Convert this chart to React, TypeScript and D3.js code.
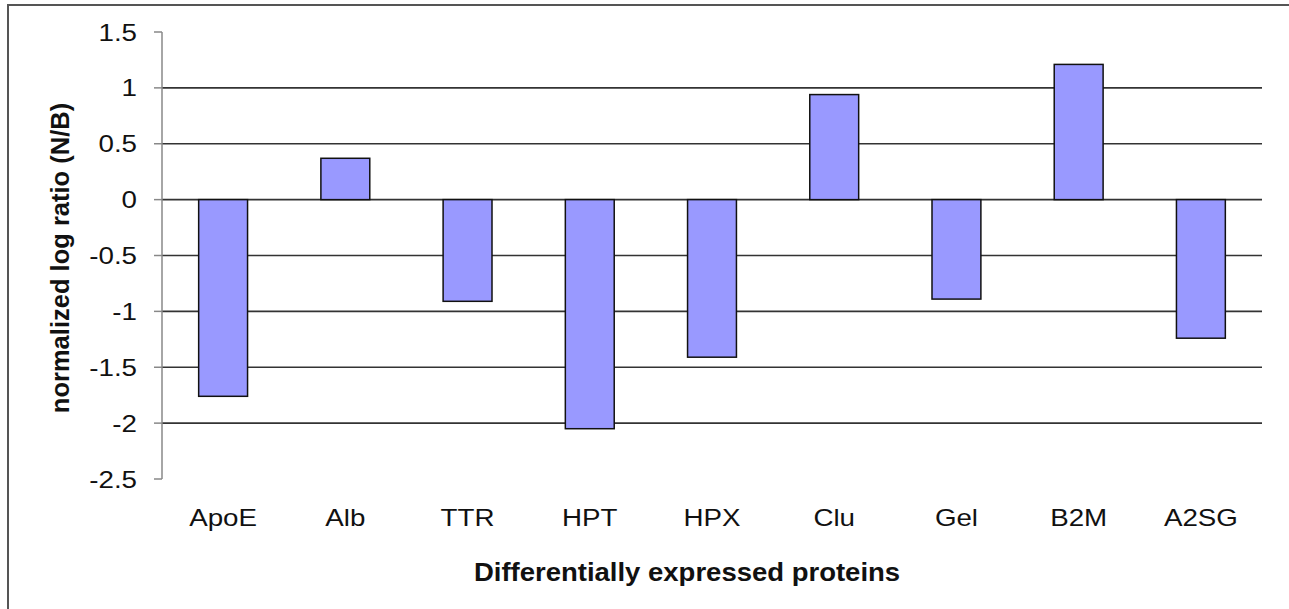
import React from "react";
import * as d3 from "d3";

const categories = ["ApoE", "Alb", "TTR", "HPT", "HPX", "Clu", "Gel", "B2M", "A2SG"];
const values = [-1.76, 0.37, -0.91, -2.05, -1.41, 0.94, -0.89, 1.21, -1.24];
const yTicks = [1.5, 1, 0.5, 0, -0.5, -1, -1.5, -2, -2.5];

const font = "Liberation Sans, Arial, sans-serif";

function SText(props: { x: number; y: number; sx: number; size: number; anchor: string; bold?: boolean; children: React.ReactNode }) {
  const { x, y, sx, size, anchor, bold, children } = props;
  return (
    <g transform={`translate(${x},${y}) scale(${sx},1)`}>
      <text x={0} y={0} textAnchor={anchor} fontFamily={font} fontSize={size} fontWeight={bold ? "bold" : "normal"} fill="#111">{children}</text>
    </g>
  );
}

export default function App() {
  const W = 1289, H = 609;
  const left = 162, right = 1262, top = 32, bottom = 479;
  const x = d3.scaleBand<string>().domain(categories).range([left, right]).paddingInner(0.6).paddingOuter(0.3);
  const y = d3.scaleLinear().domain([-2.5, 1.5]).range([bottom, top]);
  return (
    <svg width={W} height={H} style={{ position: "absolute", left: 0, top: 0 }}>
      <rect x={0} y={0} width={W} height={H} fill="#fff" />
      <rect x={8} y={5} width={1300} height={620} fill="none" stroke="#555" strokeWidth={2} />
      {yTicks.filter(t => t !== 1.5 && t !== -2.5).map(t => (
        <line key={t} x1={left} x2={right} y1={y(t)} y2={y(t)} stroke="#333" strokeWidth={1.6} />
      ))}
      <line x1={left} x2={left} y1={top} y2={bottom} stroke="#888" strokeWidth={1.5} />
      {yTicks.map(t => (
        <g key={t}>
          <line x1={154} x2={left} y1={y(t)} y2={y(t)} stroke="#888" strokeWidth={1.5} />
          <SText x={137} y={y(t) + 8.5} sx={1.18} size={23.5} anchor="end">{t}</SText>
        </g>
      ))}
      {categories.map((c, i) => {
        const v = values[i];
        const y0 = y(Math.max(0, v));
        const y1 = y(Math.min(0, v));
        return (
          <rect key={c} x={x(c)} y={y0} width={x.bandwidth()} height={y1 - y0} fill="#9999ff" stroke="#111" strokeWidth={1.5} />
        );
      })}
      {categories.map(c => (
        <SText key={c} x={(x(c) as number) + x.bandwidth() / 2} y={526} sx={1.18} size={23.5} anchor="middle">{c}</SText>
      ))}
      <SText x={687} y={581} sx={1.1} size={25} anchor="middle" bold>Differentially expressed proteins</SText>
      <text transform={`translate(69, 258) rotate(-90)`} textAnchor="middle" fontFamily={font} fontSize={25.5} fontWeight="bold" fill="#111">normalized log ratio (N/B)</text>
    </svg>
  );
}
